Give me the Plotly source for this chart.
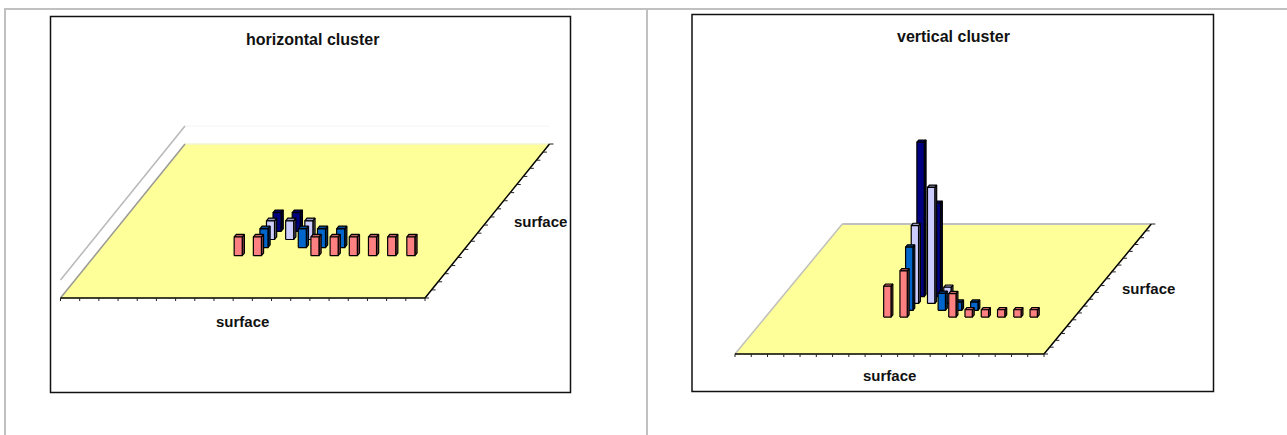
import plotly.graph_objects as go

# one value per surface cell along the front axis, None = nothing drawn
h_navy = [None, None, None, None, None, None, None, None, 1, 1, None, None, None, None, None, None, None, None, None]
h_light = [None, None, None, None, None, None, None, None, 1, 1, 1, None, None, None, None, None, None, None, None]
h_blue = [None, None, None, None, None, None, None, None, 1, None, 1, 1, 1, None, None, None, None, None, None]
h_pink = [None, None, None, None, None, None, None, 1, 1, None, None, 1, 1, 1, 1, 1, 1, None, None]

v_navy = [None, None, None, None, None, None, None, None, 21, 12.7, None, None, None, None, None, None, None, None, None]
v_light = [None, None, None, None, None, None, None, None, 10.6, 15.8, 2.2, None, None, None, None, None, None, None, None]
v_blue = [None, None, None, None, None, None, None, None, 8.6, None, 2.3, 1.1, 1.1, None, None, None, None, None, None]
v_pink = [None, None, None, None, None, None, None, 4.2, 6.3, None, None, 3.2, 1, 1, 1, 1, 1, None, None]

rows = [8, 7, 6, 5]
colors = [(0, 0, 128), (204, 204, 255), (0, 102, 204), (255, 128, 128)]
n_cells = 19

left = dict(x0=60.5, x1=425, y0=298, bx=185, by=144, unit=18.7, front=0.22, width=0.42, back="#eeeeee", wall=18)
right = dict(x0=735, x1=1044, y0=354, bx=842.3, by=224, unit=7.35, front=0.39, width=0.45, back="#c0c0c0", wall=0)


def project(c, cell, row, z=0):
    cw = (c["x1"] - c["x0"]) / n_cells
    dx = (c["bx"] - c["x0"]) / n_cells
    dy = (c["y0"] - c["by"]) / n_cells
    return c["x0"] + cell * cw + row * dx, c["y0"] - row * dy - z * c["unit"]


def shade(rgb, k):
    return "rgb(%d,%d,%d)" % tuple(int(v * k) for v in rgb)


def poly(fig, pts, fill, line="black", width=1.2):
    xs, ys = [], []
    for p in pts:
        if p is None:
            xs.append(None)
            ys.append(None)
        else:
            xs.append(p[0])
            ys.append(p[1])
    fig.add_trace(go.Scatter(x=xs, y=ys, mode="lines", fill="toself", fillcolor=fill,
                             line=dict(color=line, width=width), hoverinfo="skip"))


def seg(fig, a, b, color, width=1):
    fig.add_trace(go.Scatter(x=[a[0], b[0]], y=[a[1], b[1]], mode="lines",
                             line=dict(color=color, width=width), hoverinfo="skip"))


def draw_bars(fig, c, series):
    for values, row, rgb in zip(series, rows, colors):
        fronts, sides, tops = [], [], []
        for i, v in enumerate(values):
            if v is None:
                continue
            a = i + 0.27
            b = a + c["width"]
            r0 = row + c["front"]
            r1 = r0 + 0.33
            fronts += [project(c, a, r0), project(c, b, r0), project(c, b, r0, v), project(c, a, r0, v), project(c, a, r0), None]
            sides += [project(c, b, r0), project(c, b, r1), project(c, b, r1, v), project(c, b, r0, v), project(c, b, r0), None]
            tops += [project(c, a, r0, v), project(c, b, r0, v), project(c, b, r1, v), project(c, a, r1, v), project(c, a, r0, v), None]
        poly(fig, sides, shade(rgb, 0.5))
        poly(fig, tops, shade(rgb, 0.75))
        poly(fig, fronts, shade(rgb, 1))


def draw_chart(fig, c, series):
    fl = project(c, 0, 0)
    fr = project(c, n_cells, 0)
    br = project(c, n_cells, n_cells)
    bl = project(c, 0, n_cells)
    if c["wall"]:
        seg(fig, (fl[0], fl[1] - c["wall"]), (bl[0], bl[1] - c["wall"]), "#b8b8b8", 1.5)
        seg(fig, (bl[0], bl[1] - c["wall"]), (br[0], br[1] - c["wall"]), "#f4f4f4")
    poly(fig, [fl, fr, br, bl, fl], "#FFFF99", line="#FFFF99")
    seg(fig, bl, br, c["back"], 2 if c["wall"] == 0 else 1)
    seg(fig, fl, bl, "#c0c0c0" if c["wall"] == 0 else "#999999", 1.5)
    seg(fig, fl, fr, "black", 1.5)
    seg(fig, fr, br, "black", 1.5)
    for i in range(n_cells + 1):
        p = project(c, i, 0)
        seg(fig, p, (p[0], p[1] + 3), "#222222")
        q = project(c, n_cells, i)
        seg(fig, q, (q[0] + 4, q[1]), "#222222")
    draw_bars(fig, c, series)


fig = go.Figure()
draw_chart(fig, left, [h_navy, h_light, h_blue, h_pink])
draw_chart(fig, right, [v_navy, v_light, v_blue, v_pink])

shapes = [
    dict(type="line", x0=4, x1=1287, y0=9, y1=9, line=dict(color="#c0c0c0", width=2)),
    dict(type="line", x0=5, x1=5, y0=9, y1=435, line=dict(color="#c0c0c0", width=2)),
    dict(type="line", x0=647, x1=647, y0=9, y1=435, line=dict(color="#c0c0c0", width=2)),
    dict(type="rect", x0=50.5, x1=570.5, y0=16.5, y1=392.5, line=dict(color="#111111", width=1.5)),
    dict(type="rect", x0=692, x1=1213.5, y0=14.5, y1=391.5, line=dict(color="#111111", width=1.5)),
]

labels = [
    ("horizontal cluster", 312, 39, 16),
    ("surface", 242, 321, 15),
    ("surface", 540, 221, 15),
    ("vertical cluster", 953, 36, 16),
    ("surface", 889, 375, 15),
    ("surface", 1148, 288, 15),
]
annotations = [dict(text=t, x=x, y=y, xref="x", yref="y", showarrow=False,
                    font=dict(family="Liberation Sans", size=s, color="#111111", weight="bold"))
               for t, x, y, s in labels]

fig.update_layout(width=1287, height=435, margin=dict(l=0, r=0, t=0, b=0),
                  paper_bgcolor="white", plot_bgcolor="white", showlegend=False,
                  shapes=shapes, annotations=annotations,
                  xaxis=dict(range=[0, 1287], visible=False, fixedrange=True),
                  yaxis=dict(range=[435, 0], visible=False, fixedrange=True))

fig.write_html("out.html", config=dict(displayModeBar=False),
               post_script="document.body.style.margin='0';document.body.style.overflow='hidden';")
